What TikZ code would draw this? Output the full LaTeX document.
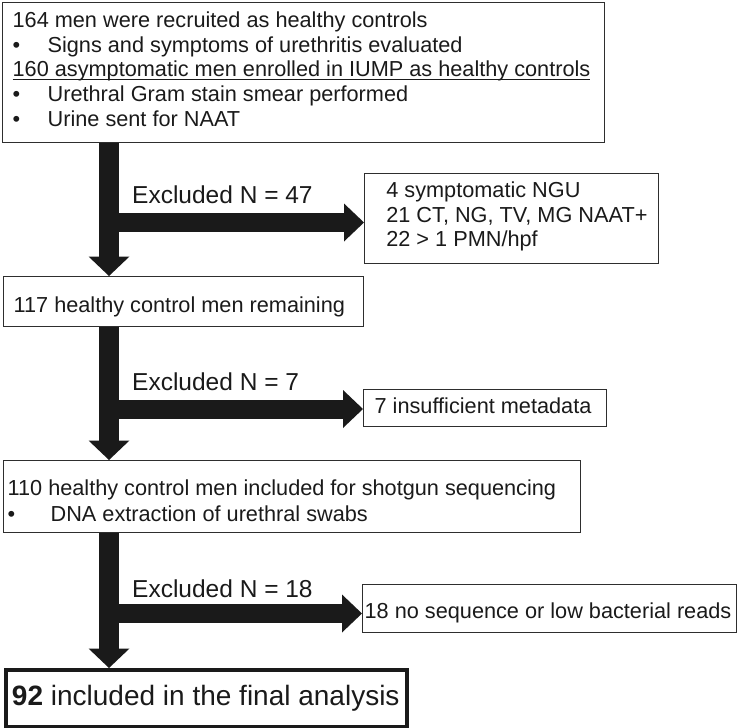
\documentclass[tikz,border=0pt]{standalone}
\usepackage{fontspec}
\setmainfont{Liberation Sans}
\usetikzlibrary{arrows.meta}
\definecolor{ink}{HTML}{1A1A1A}
\definecolor{frame}{HTML}{2E2E2E}
\newcommand{\TLine}[1]{\hbox to \hsize{#1\hss}}
\newcommand{\bul}[1]{\makebox[#1][l]{•}}
\newcommand{\myul}[1]{\setbox0\hbox{#1}\rlap{\color{ink}\rule[-3pt]{\wd0}{1pt}}\box0}
\begin{document}
\begin{tikzpicture}[x=1pt,y=-1pt,
  flowbox/.style={draw=frame, line width=1.3pt, inner ysep=0pt, anchor=north west, text=ink,
    font=\fontsize{21.7}{24.6}\selectfont},
  exlabel/.style={anchor=base west, inner sep=0pt, text=ink, font=\fontsize{24.5}{28}\selectfont},
  vflow/.style={draw=ink, line width=20pt, -{Triangle[width=41pt,length=19.5pt,line width=0pt]}},
  hflow/.style={draw=ink, line width=19pt, -{Triangle[width=38pt,length=20pt,line width=0pt]}}]
\useasboundingbox (0,0) rectangle (737,728);

% main boxes
\node[flowbox, inner xsep=10pt, text height=25pt, text depth=115pt] (b1) at (2,2)
  {\vtop{\hsize=582pt\baselineskip=24.6pt
   \TLine{164 men were recruited as healthy controls}
   \TLine{\bul{35pt}Signs and symptoms of urethritis evaluated}
   \TLine{\myul{160 asymptomatic men enrolled in IUMP as healthy controls}}
   \TLine{\bul{35pt}Urethral Gram stain smear performed}
   \TLine{\bul{35pt}Urine sent for NAAT}}};

\node[flowbox, inner xsep=10.5pt, text height=36pt, text depth=14pt] (b2) at (2.5,276)
  {\vtop{\hsize=339.5pt
   \TLine{117 healthy control men remaining}}};

\node[flowbox, inner xsep=4.5pt, text height=35pt, text depth=37pt] (b3) at (2.5,460)
  {\vtop{\hsize=568.5pt\baselineskip=25.5pt
   \TLine{110 healthy control men included for shotgun sequencing}
   \TLine{\bul{43pt}DNA extraction of urethral swabs}}};

\node[flowbox, draw=ink, line width=4pt, inner xsep=6pt, text height=35pt, text depth=22pt,
      font=\fontsize{28}{32}\selectfont] (b4) at (4,668)
  {\vtop{\hsize=389pt
   \TLine{\textbf{92} included in the final analysis}}};

% exclusion boxes
\node[flowbox, inner xsep=21.7pt, text height=24pt, text depth=66pt] (e1) at (364,173)
  {\vtop{\hsize=250.6pt\baselineskip=24.6pt
   \TLine{4 symptomatic NGU}
   \TLine{21 CT, NG, TV, MG NAAT+}
   \TLine{22 > 1 PMN/hpf}}};

\node[flowbox, inner xsep=11pt, text height=23.7pt, text depth=13.3pt] (e2) at (363,389)
  {\vtop{\hsize=221pt
   \TLine{7 insufficient metadata}}};

\node[flowbox, inner xsep=2pt, text height=33.5pt, text depth=14.5pt] (e3) at (362,584)
  {\vtop{\hsize=370pt
   \TLine{18 no sequence or low bacterial reads}}};

% labels
\node[exlabel] (l1) at (132,203) {Excluded N = 47};
\node[exlabel] (l2) at (132,390.7) {Excluded N = 7};
\node[exlabel] (l3) at (132,597) {Excluded N = 18};

% connectors
\coordinate (ax) at (109,0);
\coordinate (h1) at (109,222.5);
\coordinate (h2) at (109,409);
\coordinate (h3) at (109,613.5);

\draw[vflow] (b1.south -| ax) -- (b2.north -| ax);
\draw[vflow] (b2.south -| ax) -- (b3.north -| ax);
\draw[vflow] (b3.south -| ax) -- (b4.north -| ax);

\draw[hflow] (h1) -- (h1 -| e1.west);
\draw[hflow] (h2) -- (h2 -| e2.west);
\draw[hflow] (h3) -- (h3 -| e3.west);
\end{tikzpicture}
\end{document}
